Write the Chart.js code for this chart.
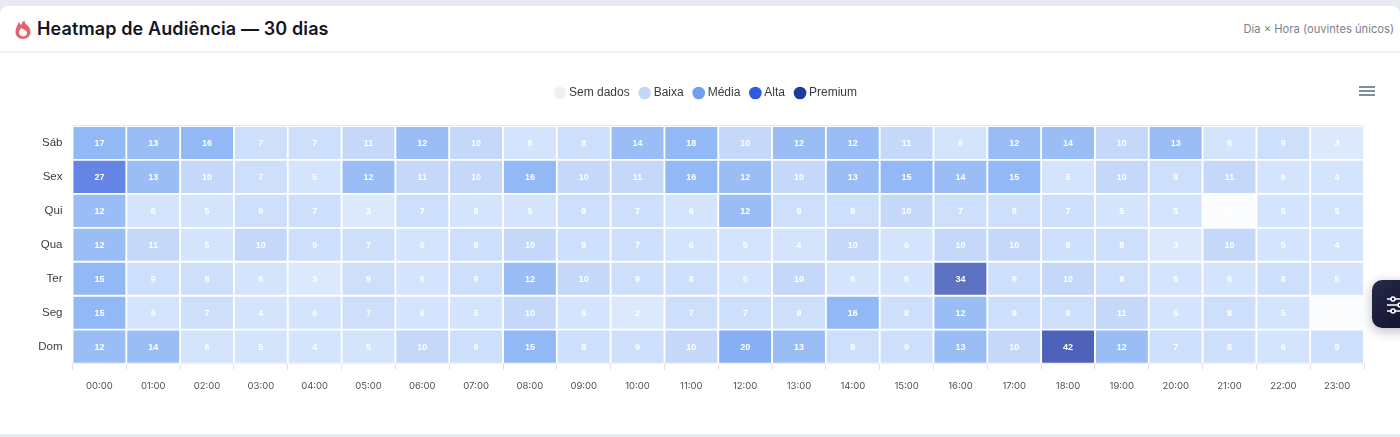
<!DOCTYPE html>
<html lang="pt-BR">
<head>
<meta charset="utf-8">
<title>Heatmap de Audiência</title>
<script src="https://cdn.jsdelivr.net/npm/chart.js@4"></script>
<style>
  html, body { margin: 0; padding: 0; width: 1400px; height: 437px; overflow: hidden; background: #e7ebf0; }
  .card { position: absolute; left: 0; top: 6px; width: 1400px; height: 428px; background: #fff; border-radius: 8px 8px 0 0; }
  .head { position: absolute; left: 0; top: 0; width: 1400px; height: 45px; border-bottom: 2px solid #eff0f2; }
  .head svg { position: absolute; left: 14px; top: 14px; }
  .head h3 { position: absolute; left: 37px; top: 12px; margin: 0; font: 600 18px Inter, sans-serif; color: #14151f; letter-spacing: 0.12px; white-space: nowrap; }
  .head span { position: absolute; right: 6px; top: 16px; font: 400 11.2px Inter, sans-serif; color: #7a7f8c; white-space: nowrap; }
  #heatmap { position: absolute; left: 0; top: 47px; }
  .menu { position: absolute; left: 1359px; top: 86px; width: 16px; }
  .menu i { display: block; height: 2px; background: #7d8e9d; margin-bottom: 2px; }
  .fab { position: absolute; left: 1372px; top: 280px; width: 40px; height: 48px; border-radius: 10px; background: linear-gradient(135deg, #27294c, #11132a); box-shadow: 0 3px 12px rgba(20,24,50,.3); }
  .fab svg { position: absolute; left: 14px; top: 15px; }
</style>
</head>
<body>
<div class="card">
  <div class="head">
    <svg width="18" height="20" viewBox="0 0 18 20"><path fill="#e2626d" d="M5 1.5c.3 2 1.2 3 2.4 3.6C7.6 3.4 8.600 1.600 10.500 .5c0 2.300 1.200 3.300 2.700 4.800C15 7 16.500 9 16.500 11.800 16.500 16.200 13.200 19 9 19S1.500 16.200 1.500 11.800C1.500 7.800 3.600 5.500 5 1.500Z"/><path fill="#fff" d="M9 16.500c-2.300 0-4-1.600-4-3.900 0-2 1.500-3.200 2.400-4.800.6 1.100 1.300 1.400 2.200 1.300.4 1.200 3.400 1.600 3.400 3.700 0 2.300-1.700 3.700-4 3.700Z"/></svg>
    <h3>Heatmap de Audiência — 30 dias</h3>
    <span>Dia × Hora (ouvintes únicos)</span>
  </div>
</div>
<canvas id="heatmap" width="1400" height="384"></canvas>
<div class="menu"><i></i><i></i><i></i></div>
<div class="fab">
  <svg width="22" height="20" viewBox="0 0 22 20" fill="none" stroke="#fff" stroke-width="1.600"><path d="M1 4h20M1 10h20M1 16h20"/><circle cx="7" cy="4" r="2" fill="#1a1c38"/><circle cx="14" cy="10" r="2" fill="#1a1c38"/><circle cx="7" cy="16" r="2" fill="#1a1c38"/></svg>
</div>
<script>
// Rows run top to bottom
const days = ["Sáb", "Sex", "Qui", "Qua", "Ter", "Seg", "Dom"];
const hours = ["00:00", "01:00", "02:00", "03:00", "04:00", "05:00", "06:00", "07:00", "08:00", "09:00", "10:00", "11:00",
  "12:00", "13:00", "14:00", "15:00", "16:00", "17:00", "18:00", "19:00", "20:00", "21:00", "22:00", "23:00"];

// Unique listeners per hour
const sab = [17, 13, 16, 7, 7, 11, 12, 10, 6, 8, 14, 18, 10, 12, 12, 11, 6, 12, 14, 10, 13, 6, 9, 3];
const sex = [27, 13, 10, 7, 5, 12, 11, 10, 16, 10, 11, 16, 12, 10, 13, 15, 14, 15, 5, 10, 8, 11, 6, 4];
const qui = [12, 6, 5, 9, 7, 3, 7, 5, 5, 9, 7, 6, 12, 9, 8, 10, 7, 8, 7, 5, 5, 0, 5, 5];
const qua = [12, 11, 5, 10, 9, 7, 6, 8, 10, 9, 7, 6, 5, 4, 10, 6, 10, 10, 8, 8, 3, 10, 5, 4];
const ter = [15, 9, 8, 6, 3, 9, 5, 9, 12, 10, 9, 8, 5, 10, 6, 6, 34, 9, 10, 8, 6, 6, 8, 5];
const seg = [15, 6, 7, 4, 6, 7, 6, 5, 10, 6, 2, 7, 7, 9, 16, 8, 12, 9, 9, 11, 5, 8, 5, 0];
const dom = [12, 14, 6, 5, 4, 5, 10, 9, 15, 8, 9, 10, 20, 13, 8, 9, 13, 10, 42, 12, 7, 8, 6, 9];
const rows = [sab, sex, qui, qua, ter, seg, dom];

const legendNames = ["Sem dados", "Baixa", "Média", "Alta", "Premium"];
const legendColors = ["#eff1f4", "#c3d7f8", "#6f9ff0", "#2f5be0", "#1f3a9e"];

// Shade of a cell for its count
function cellColor(v) {
  if (v === 0) return "#fbfcfd";
  if (v <= 3) return "#dce8fc";
  if (v <= 6) return "#d4e4fc";
  if (v <= 9) return "#cedffb";
  if (v <= 11) return "#c5d8fa";
  if (v <= 14) return "#9abdf6";
  if (v <= 18) return "#92b8f5";
  if (v <= 20) return "#87b0f4";
  if (v <= 27) return "#6585e6";
  if (v <= 34) return "#5e72c4";
  return "#4f62ba";
}

// Each row is a dataset of floating bars, one unit tall, on a hidden linear axis
const datasets = rows.map((row, r) => ({
  label: days[r],
  yAxisID: "yValue",
  grouped: false,
  barPercentage: 1,
  categoryPercentage: 1,
  borderWidth: 1.25,
  borderColor: "#fff",
  borderSkipped: false,
  backgroundColor: ctx => cellColor(ctx.raw.v),
  data: row.map((v, h) => ({ x: hours[h], y: [days.length - 1 - r, days.length - r], v: v }))
}));

// Count inside every cell, plus the hairline above the first row
const cellLabels = {
  id: "cellLabels",
  beforeLayout(chart) {
    // extra room under the legend
    const fit = chart.legend.fit;
    chart.legend.fit = function () {
      fit.call(this);
      this.height += 17;
    };
  },
  afterLayout(chart) {
    // centre the legend over the page, not over the plot
    chart.legend.left = 50;
  },
  afterDatasetsDraw(chart) {
    const c = chart.ctx;
    const area = chart.chartArea;
    c.save();
    c.strokeStyle = "#e6e8ec";
    c.lineWidth = 1;
    c.beginPath();
    c.moveTo(area.left, area.top - 0.5);
    c.lineTo(area.right, area.top - 0.5);
    c.stroke();
    c.font = "700 9px Helvetica, 'Liberation Sans', Arial, sans-serif";
    c.fillStyle = "#fff";
    c.textAlign = "center";
    c.textBaseline = "middle";
    chart.data.datasets.forEach((ds, i) => {
      chart.getDatasetMeta(i).data.forEach((bar, k) => {
        const p = bar.getCenterPoint();
        c.fillText(ds.data[k].v, p.x, p.y + 1);
      });
    });
    c.restore();
  }
};

new Chart(document.getElementById("heatmap"), {
  type: "bar",
  data: { labels: hours, datasets: datasets },
  plugins: [cellLabels],
  options: {
    responsive: false,
    animation: false,
    layout: { padding: { left: 0, right: 36, top: 28, bottom: 28 } },
    plugins: {
      tooltip: { enabled: false },
      legend: {
        position: "top",
        align: "center",
        onClick: null,
        labels: {
          usePointStyle: true,
          pointStyle: "circle",
          boxWidth: 6,
          boxHeight: 9,
          padding: 12,
          color: "#373d3f",
          font: { family: "Helvetica, 'Liberation Sans', Arial, sans-serif", size: 12 },
          generateLabels: () => legendNames.map((name, i) => ({
            text: name,
            fillStyle: legendColors[i],
            strokeStyle: legendColors[i],
            fontColor: "#373d3f",
            lineWidth: 0,
            pointStyle: "circle",
            hidden: false
          }))
        }
      }
    },
    scales: {
      x: {
        type: "category",
        grid: { display: true, drawOnChartArea: false, color: "#e0e0e0", tickLength: 6, drawTicks: true },
        border: { color: "#e0e0e0" },
        ticks: { color: "#4a4f58", maxRotation: 0, autoSkip: false, padding: 11, font: { family: "Inter, sans-serif", size: 9.5 } }
      },
      y: {
        type: "category",
        labels: days,
        offset: true,
        afterFit: s => { s.width = 72.5; },
        grid: { display: false },
        border: { display: false },
        ticks: { color: "#373d3f", padding: 2, font: { family: "Helvetica, 'Liberation Sans', Arial, sans-serif", size: 11.5 } }
      },
      yValue: { type: "linear", min: 0, max: days.length, display: false }
    }
  }
});
</script>
</body>
</html>
